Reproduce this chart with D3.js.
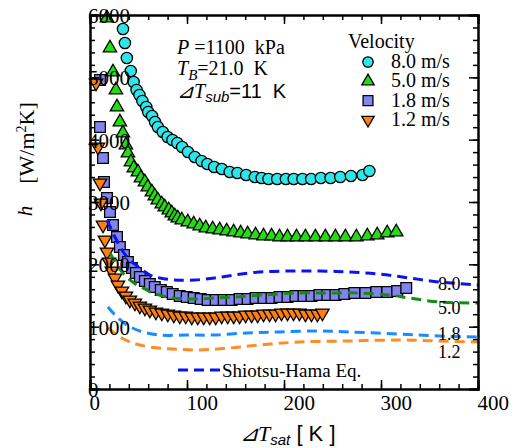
<!DOCTYPE html>
<html>
<head>
<meta charset="utf-8">
<script src="https://cdn.jsdelivr.net/npm/d3@7"></script>
<style>
  body { margin: 0; background: #fff; }
  text { font-family: "Liberation Serif", "Times New Roman", serif; fill: #000; white-space: pre; }
  .sans { font-family: "Liberation Sans", Arial, sans-serif; }
</style>
</head>
<body>
<svg id="chart" width="520" height="448"></svg>
<script>
// measured data : dTsat [K] / h [W/m2K]
const dT_80 = [34,36,38,42,45,48,51,54,58,60,64,67,70,75,80,85,90,95,101,108,115,121,128,136,144,152,161,170,177,184,193,202,210,219,228,238,248,258,269,281,288];
const h_80 = [5776,5551,5310,5102,4925,4797,4717,4620,4524,4444,4380,4284,4203,4123,4043,3995,3947,3883,3802,3722,3658,3610,3562,3530,3481,3465,3433,3401,3385,3369,3369,3369,3369,3369,3369,3385,3385,3401,3417,3433,3497];

const dT_50 = [17.5,20.6,23.7,26.7,27.8,30.8,33.9,37.0,39.1,42.2,45.2,49.4,52.5,56.6,59.6,63.8,66.8,69.9,74.0,77.1,81.2,84.3,87.4,90.5,94.6,100.8,106.9,113.1,119.3,126.5,133.7,140.9,148.1,155.3,162.5,170.7,178.9,187.2,195.4,203.6,212.9,222.1,232.4,242.7,253.0,263.3,274.6,285.9,296.1,306.4,315.7];
const h_50 = [5952,5471,5086,4797,4524,4284,4107,3915,3786,3642,3546,3482,3385,3321,3241,3161,3096,3032,2968,2920,2872,2824,2776,2744,2711,2679,2647,2615,2583,2567,2551,2535,2519,2503,2487,2471,2455,2455,2439,2439,2439,2439,2439,2439,2439,2439,2439,2455,2471,2503,2519];

const dT_18 = [10.3,10.3,13.4,14.4,17.5,20.6,23.7,27.8,30.8,35.0,39.1,43.2,47.3,51.4,56.6,61.7,66.8,73.0,79.2,85.3,92.5,99.7,106.9,114.1,121.3,129.6,137.8,146.0,154.2,162.5,170.7,178.9,187.1,195.4,203.6,211.8,220.1,228.3,236.5,244.7,253.0,262.2,272.5,283.8,295.1,306.4,316.7,326.0];
const h_18 = [4958,4204,3706,3321,3064,2840,2631,2439,2278,2150,2038,1941,1861,1797,1733,1685,1636,1588,1556,1524,1492,1476,1460,1444,1428,1428,1428,1428,1444,1444,1460,1460,1460,1476,1476,1492,1492,1492,1508,1508,1508,1524,1540,1540,1556,1556,1572,1620];

const dT_12 = [6.2,8.2,10.3,11.3,13.4,15.4,17.5,19.5,22.6,25.7,28.8,32.9,37.0,41.1,46.3,51.4,56.6,61.7,67.9,74.0,80.2,86.4,92.5,98.7,104.9,111.1,117.2,123.4,129.6,135.7,141.9,148.1,154.2,160.4,166.6,172.8,178.9,185.1,191.3,197.4,203.6,209.8,215.9,222.1,228.3,234.4,239.6];
const h_12 = [4909,3883,3305,2984,2631,2391,2198,2038,1893,1781,1669,1572,1492,1428,1380,1332,1300,1267,1235,1219,1203,1187,1171,1171,1155,1155,1155,1155,1155,1171,1171,1171,1171,1187,1187,1187,1203,1203,1203,1219,1219,1219,1219,1203,1203,1203,1219];

// Shiotsu-Hama correlation curves
const sh_dT_80 = [17.5,25.7,32.9,41.1,51.4,61.7,72.0,87.4,108.0,128.5,149.1,174.8,205.7,236.5,267.4,298.2,329.1,359.9,400];
const sh_h_80 = [2711,2439,2230,2070,1941,1829,1781,1749,1749,1781,1829,1877,1893,1893,1877,1845,1781,1717,1669];
const sh_dT_50 = [20.6,27.8,33.9,41.1,48.3,56.6,64.8,75.1,85.4,97.7,110.1,128.5,149.1,177.9,212.9,246.8,277.6,308.5,329.0,359.9,400];
const sh_h_50 = [2182,1989,1861,1749,1669,1604,1540,1492,1460,1444,1444,1460,1476,1508,1540,1540,1540,1508,1460,1396,1380];
const sh_dT_18 = [18.5,27.8,38.0,51.4,72.0,99.7,126.5,161.4,195.4,236.5,267.4,318.8,359.9,400];
const sh_h_18 = [1316,1155,1027,931,866,866,866,898,915,931,915,882,850,834];
const sh_dT_12 = [18.5,30.8,44.2,61.7,85.3,113.1,144.0,174.8,215.9,267.4,318.8,359.9,400];
const sh_h_12 = [979,834,738,674,642,626,658,706,754,770,786,770,754];

const velLabels = ['8.0 m/s', '5.0 m/s', '1.8 m/s', '1.2 m/s'];
const curveLabels = ['8.0', '5.0', '1.8', '1.2'];
const xTicks = [0, 100, 200, 300, 400];
const yTicks = [0, 1000, 2000, 3000, 4000, 5000, 6000];

const svg = d3.select('#chart');
const x = d3.scaleLinear().domain([0, 400]).range([90, 478]);
const y = d3.scaleLinear().domain([0, 6000]).range([389, 15]);

const zip = (a, b) => a.map((v, i) => [v, b[i]]);

const series = [
  { pts: zip(dT_80, h_80), type: d3.symbolCircle, size: 100, rot: 0, fill: '#2ee6ea' },
  { pts: zip(dT_50, h_50), type: d3.symbolTriangle, size: 78, rot: 0, fill: '#22dd11' },
  { pts: zip(dT_18, h_18), type: d3.symbolSquare, size: 115, rot: 0, fill: '#8484f0' },
  { pts: zip(dT_12, h_12), type: d3.symbolTriangle, size: 78, rot: 180, fill: '#ff7f11' }
];

const curves = [
  { pts: zip(sh_dT_80, sh_h_80), color: '#0a14f0' },
  { pts: zip(sh_dT_50, sh_h_50), color: '#168a16' },
  { pts: zip(sh_dT_18, sh_h_18), color: '#1a8cff' },
  { pts: zip(sh_dT_12, sh_h_12), color: '#ff8c26' }
];

// markers
series.forEach(s => {
  svg.append('g').selectAll('path')
    .data(s.pts)
    .enter().append('path')
    .attr('d', d3.symbol().type(s.type).size(s.size))
    .attr('transform', d => `translate(${x(d[0])},${y(d[1])}) rotate(${s.rot})`)
    .attr('fill', s.fill)
    .attr('stroke', '#000')
    .attr('stroke-width', 1.3);
});

// Shiotsu-Hama dashed curves
const line = d3.line().x(d => x(d[0])).y(d => y(d[1])).curve(d3.curveCatmullRom);
curves.forEach(c => {
  svg.append('path')
    .datum(c.pts)
    .attr('d', line)
    .attr('fill', 'none')
    .attr('stroke', c.color)
    .attr('stroke-width', 3)
    .attr('stroke-dasharray', '10,6');
});

// axes: minor + major, ticks inward
const axisStyle = g => {
  g.select('.domain').attr('stroke', '#000').attr('stroke-width', 2);
  g.selectAll('line').attr('stroke', '#000').attr('stroke-width', 1.5);
};

svg.append('g').attr('transform', 'translate(0,389)')
  .call(d3.axisBottom(x).tickValues(d3.range(0, 401, 20)).tickSize(-5).tickFormat(''))
  .call(axisStyle);
const xAx = svg.append('g').attr('transform', 'translate(0,389)')
  .call(d3.axisBottom(x).tickValues(xTicks).tickSize(-9).tickPadding(6))
  .call(axisStyle);
xAx.selectAll('text')
  .attr('text-anchor', 'start').attr('x', -1).attr('y', 14).attr('dy', '0.35em')
  .style('font-family', '"Liberation Serif", serif').style('font-size', '21px');

svg.append('g').attr('transform', 'translate(0,15)')
  .call(d3.axisTop(x).tickValues(d3.range(0, 401, 20)).tickSize(-5).tickFormat(''))
  .call(axisStyle);
svg.append('g').attr('transform', 'translate(0,15)')
  .call(d3.axisTop(x).tickValues(xTicks).tickSize(-9).tickFormat(''))
  .call(axisStyle);

svg.append('g').attr('transform', 'translate(90,0)')
  .call(d3.axisLeft(y).tickValues(d3.range(0, 6001, 200)).tickSize(-5).tickFormat(''))
  .call(axisStyle);
const yAx = svg.append('g').attr('transform', 'translate(90,0)')
  .call(d3.axisLeft(y).tickValues(yTicks).tickSize(-9).tickFormat(d3.format('d')))
  .call(axisStyle);
yAx.selectAll('text')
  .attr('text-anchor', 'start').attr('x', -2).attr('dy', '0.35em')
  .style('font-family', '"Liberation Serif", serif').style('font-size', '21px');

svg.append('g').attr('transform', 'translate(478,0)')
  .call(d3.axisRight(y).tickValues(d3.range(0, 6001, 200)).tickSize(-5).tickFormat(''))
  .call(axisStyle);
svg.append('g').attr('transform', 'translate(478,0)')
  .call(d3.axisRight(y).tickValues(yTicks).tickSize(-9).tickFormat(''))
  .call(axisStyle);

// axis titles
const xt = svg.append('text').attr('x', 240).attr('y', 441).style('font-size', '22px');
xt.append('tspan').attr('font-style', 'italic').text('⊿T');
xt.append('tspan').attr('class', 'sans').attr('font-style', 'italic').style('font-size', '15px').attr('dy', 4).text('sat');
xt.append('tspan').attr('class', 'sans').attr('dy', -4).text(' [ K ]');

svg.append('text')
  .attr('transform', 'translate(32,211) rotate(-90)')
  .attr('text-anchor', 'middle').attr('font-style', 'italic').style('font-size', '21px')
  .text('h');
const yt = svg.append('text')
  .attr('transform', 'translate(34,143) rotate(-90)')
  .attr('text-anchor', 'middle').style('font-size', '22px');
yt.append('tspan').text('[W/m');
yt.append('tspan').attr('dy', -8).style('font-size', '14px').text('2');
yt.append('tspan').attr('dy', 8).text('K]');

// condition annotation
const a1 = svg.append('text').attr('x', 177).attr('y', 54).style('font-size', '20px');
a1.append('tspan').attr('font-style', 'italic').text('P');
a1.append('tspan').text(' =1100\u00a0\u00a0kPa');
const a2 = svg.append('text').attr('x', 177).attr('y', 75).style('font-size', '20px');
a2.append('tspan').attr('font-style', 'italic').text('T');
a2.append('tspan').attr('font-style', 'italic').attr('dy', 5).style('font-size', '15px').text('B');
a2.append('tspan').attr('dy', -5).text('=21.0\u00a0\u00a0K');
const a3 = svg.append('text').attr('x', 177).attr('y', 98).style('font-size', '20px');
a3.append('tspan').attr('font-style', 'italic').text('⊿T');
a3.append('tspan').attr('class', 'sans').attr('font-style', 'italic').attr('dy', 4).style('font-size', '15px').text('sub');
a3.append('tspan').attr('class', 'sans').attr('dy', -4).text('=11\u00a0\u00a0K');

// velocity legend
svg.append('text').attr('x', 348).attr('y', 48).style('font-size', '20px').text('Velocity');
series.forEach((s, i) => {
  const yy = 62 + i * 19.3;
  svg.append('path')
    .attr('d', d3.symbol().type(s.type).size(s.size * 0.85))
    .attr('transform', `translate(368,${yy}) rotate(${s.rot})`)
    .attr('fill', s.fill).attr('stroke', '#000').attr('stroke-width', 1.3);
  svg.append('text').attr('x', 391).attr('y', yy + 6).style('font-size', '20px').text(velLabels[i]);
});

// curve labels on the right
const labelY = [290, 314, 340, 358];
curveLabels.forEach((t, i) => {
  svg.append('text').attr('x', 438).attr('y', labelY[i]).style('font-size', '18px').text(t);
});

// Shiotsu-Hama legend
svg.append('line').attr('x1', 178).attr('x2', 222).attr('y1', 370).attr('y2', 370)
  .attr('stroke', '#0a14f0').attr('stroke-width', 3).attr('stroke-dasharray', '10,6');
svg.append('text').attr('x', 222).attr('y', 377).style('font-size', '19px').text('Shiotsu-Hama Eq.');
</script>
</body>
</html>
